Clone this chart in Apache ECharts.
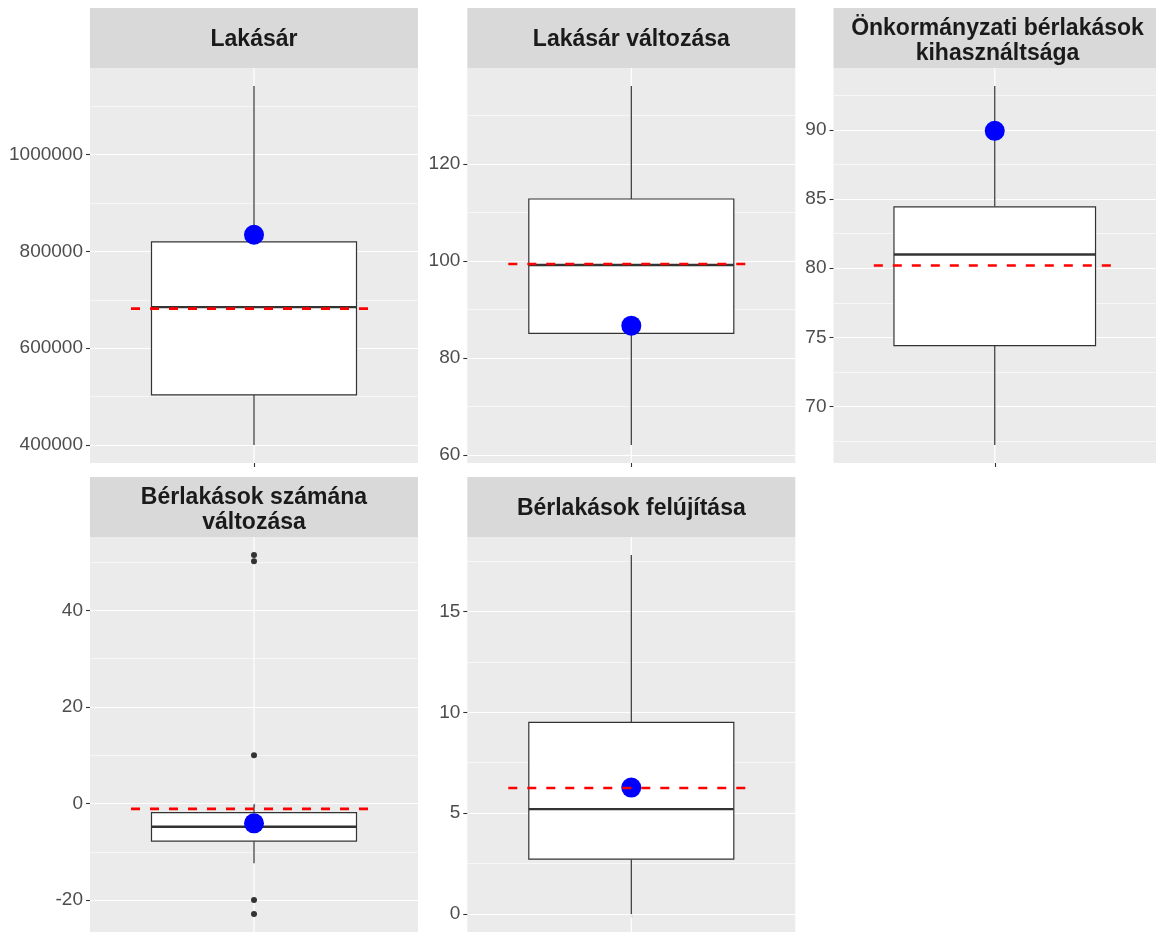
<!DOCTYPE html>
<html><head><meta charset="utf-8">
<script src="https://cdn.jsdelivr.net/npm/echarts@6/dist/echarts.min.js"></script>
<style>html,body{margin:0;padding:0;background:#fff}#c{width:1156px;height:933px}</style>
</head><body><div id="c"></div>
<script>
const titles = ['Lakásár', 'Lakásár változása', 'Önkormányzati bérlakások\nkihasználtsága', 'Bérlakások számána\nváltozása', 'Bérlakások felújítása'];
// [lower whisker, Q1, median, Q3, upper whisker]
const lakasar = [400000, 503700, 685000, 820000, 1142000];
const lakasarValtozasa = [62.1, 85.1, 99.2, 112.8, 136.1];
const kihasznaltsag = [67.2, 74.4, 81.0, 84.45, 93.2];
const berlakasValtozas = [-12.4, -7.8, -4.8, -1.9, -0.2];
const felujitas = [0, 2.72, 5.2, 9.5, 17.8];
const boxStats = [lakasar, lakasarValtozasa, kihasznaltsag, berlakasValtozas, felujitas];
const means = [681800, 99.4, 80.2, -1.1, 6.25];
const highlight = [834500, 86.7, 89.95, -4.1, 6.27];
const outliers = [[], [], [], [51.5, 50.2, 10.0, -20.0, -22.9], []];
const tickLabels = [
  [400000, 600000, 800000, 1000000],
  [60, 80, 100, 120],
  [70, 75, 80, 85, 90],
  [-20, 0, 20, 40],
  [0, 5, 10, 15]
];
const splitNumbers = [4, 4, 6, 4, 4];

const panels = [
  {x: 90, y: 68}, {x: 467.3, y: 68}, {x: 833.5, y: 68},
  {x: 90, y: 537}, {x: 467.3, y: 537}
];
const PW = 328, PH = 395, SH = 60;
const FONT = '"Liberation Sans", Arial, sans-serif';

const grids = [], xAxes = [], yAxes = [], series = [], graphics = [];
const ranges = [];

boxStats.forEach((st, i) => {
  const vals = st.concat(outliers[i], [means[i], highlight[i]]);
  const lo = Math.min(...vals), hi = Math.max(...vals);
  const pad = (hi - lo) * 0.05;
  const ymin = lo - pad, ymax = hi + pad;
  ranges.push([ymin, ymax]);
  const p = panels[i];
  grids.push({left: p.x, top: p.y, width: PW, height: PH, show: true,
    backgroundColor: '#EBEBEB', borderWidth: 0, containLabel: false});
  xAxes.push({type: 'category', gridIndex: i, data: [''], boundaryGap: true,
    axisLine: {show: false}, axisLabel: {show: false},
    axisTick: {show: true, alignWithLabel: true, length: 4, lineStyle: {color: '#333', width: 1.1}},
    splitLine: {show: false}});
  yAxes.push({type: 'value', gridIndex: i, min: ymin, max: ymax, splitNumber: splitNumbers[i],
    axisLine: {show: false},
    axisTick: {show: true, length: 4, customValues: tickLabels[i], lineStyle: {color: '#333', width: 1.1}},
    axisLabel: {show: true, color: '#4D4D4D', fontSize: 19, fontFamily: FONT, margin: 7,
      customValues: tickLabels[i], formatter: v => String(v)},
    splitLine: {show: true, lineStyle: {color: '#FFFFFF', width: 1.2}},
    minorTick: {show: false, splitNumber: 2},
    minorSplitLine: {show: true, lineStyle: {color: '#FFFFFF', width: 0.6}}
  });
  // box
  series.push({
    type: 'custom', xAxisIndex: i, yAxisIndex: i, z: 2,
    data: [[0].concat(st)],
    encode: {x: 0, y: [1, 2, 3, 4, 5]},
    renderItem: (params, api) => {
      const lw = api.value(1), q1 = api.value(2), med = api.value(3), q3 = api.value(4), up = api.value(5);
      const x = api.coord([0, med])[0];
      const bw = api.size([1, 0])[0] * 0.625;
      const y = v => api.coord([0, v])[1];
      const r = ranges[i];
      return {type: 'group', children: [
        {type: 'line', shape: {x1: x, y1: y(r[0]), x2: x, y2: y(r[1])}, style: {stroke: '#FFFFFF', lineWidth: 1.2}},
        {type: 'line', shape: {x1: x, y1: y(up), x2: x, y2: y(q3)}, style: {stroke: '#333333', lineWidth: 1.2}},
        {type: 'line', shape: {x1: x, y1: y(q1), x2: x, y2: y(lw)}, style: {stroke: '#333333', lineWidth: 1.2}},
        {type: 'rect', shape: {x: x - bw / 2, y: y(q3), width: bw, height: y(q1) - y(q3)},
          style: {fill: '#FFFFFF', stroke: '#333333', lineWidth: 1.2}},
        {type: 'line', shape: {x1: x - bw / 2, y1: y(med), x2: x + bw / 2, y2: y(med)},
          style: {stroke: '#333333', lineWidth: 2.4}}
      ]};
    }
  });
  if (outliers[i].length) {
    series.push({type: 'scatter', xAxisIndex: i, yAxisIndex: i, z: 3,
      data: outliers[i].map(v => [0, v]), symbolSize: 6,
      itemStyle: {color: '#333333', opacity: 1}, silent: true});
  }
  series.push({type: 'scatter', xAxisIndex: i, yAxisIndex: i, z: 4,
    data: [[0, highlight[i]]], symbolSize: 20, itemStyle: {color: '#0000FF', opacity: 1}, silent: true});
  series.push({
    type: 'custom', xAxisIndex: i, yAxisIndex: i, z: 5,
    data: [[0, means[i]]],
    renderItem: (params, api) => {
      const c = api.coord([0, api.value(1)]);
      const half = api.size([1, 0])[0] * 0.375;
      return {type: 'line', shape: {x1: c[0] - half, y1: c[1], x2: c[0] + half, y2: c[1]},
        style: {stroke: '#FF0000', lineWidth: 2.6, lineDash: [9, 10]}};
    }
  });
  const twoLine = titles[i].indexOf('\n') >= 0;
  graphics.push({type: 'rect', left: p.x, top: p.y - SH, shape: {width: PW, height: SH},
    style: {fill: '#D9D9D9'}, silent: true});
  graphics.push({type: 'text', x: p.x + PW / 2, y: p.y - SH / 2 + (twoLine ? 3 : 2),
    style: {text: titles[i], fill: '#1A1A1A', font: 'bold 23px ' + FONT,
      align: 'center', verticalAlign: 'middle', lineHeight: 25}, silent: true});
});

const chart = echarts.init(document.getElementById('c'), null, {renderer: 'canvas'});
chart.setOption({
  animation: false,
  backgroundColor: '#FFFFFF',
  grid: grids, xAxis: xAxes, yAxis: yAxes, series: series,
  graphic: graphics
});
</script>
</body></html>
